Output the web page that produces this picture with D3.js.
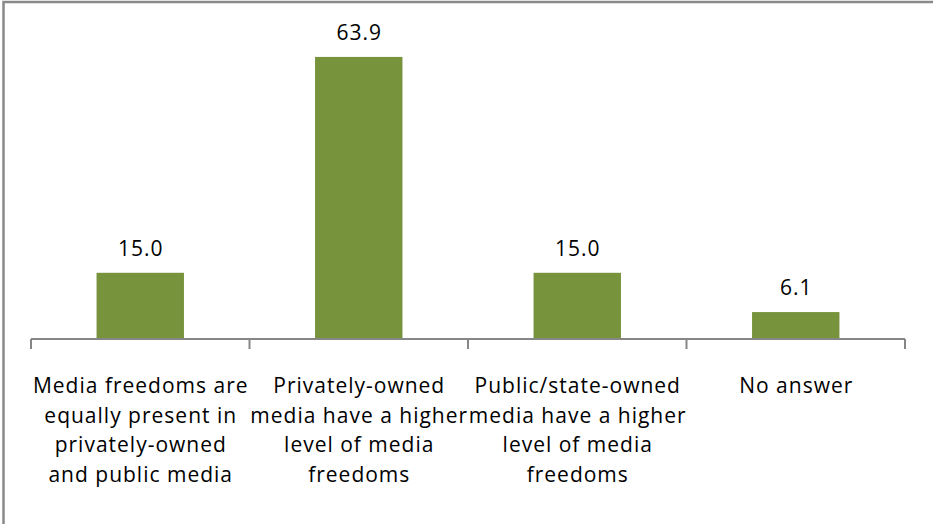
<!DOCTYPE html>
<html>
<head>
<meta charset="utf-8">
<script src="https://cdn.jsdelivr.net/npm/d3@7"></script>
<style>
  html, body { margin: 0; padding: 0; background: #fff; overflow: hidden; }
  svg { display: block; }
  text { font-family: "Open Sans", Lato, sans-serif; fill: #000; letter-spacing: 1px; }
</style>
</head>
<body>
<svg id="chart" width="933" height="524"></svg>
<script>
// Survey answers: where media freedoms are higher (percent)
const categories = [
  "equal",
  "private",
  "public",
  "none"
];
const tickLabels = [
  ["Media freedoms are", "equally present in", "privately-owned", "and public media"],
  ["Privately-owned", "media have a higher", "level of media", "freedoms"],
  ["Public/state-owned", "media have a higher", "level of media", "freedoms"],
  ["No answer"]
];
const values = [15.0, 63.9, 15.0, 6.1];

const W = 933, H = 524;
const margin = { left: 31, right: 28, top: 30, bottom: 185 };
const svg = d3.select("#chart");

// chart frame (extends past the visible area on right/bottom)
svg.append("rect")
  .attr("x", 3.5).attr("y", 2)
  .attr("width", W + 20).attr("height", H + 20)
  .attr("fill", "none")
  .attr("stroke", "#8a8a8a")
  .attr("stroke-width", 2.5);

const x = d3.scaleBand()
  .domain(categories)
  .range([margin.left, W - margin.right])
  .paddingInner(0.6)
  .paddingOuter(0.3);

const baseY = H - margin.bottom;
const y = d3.scaleLinear()
  .domain([0, 70])
  .range([baseY, margin.top]);

// bars
svg.append("g").selectAll("rect")
  .data(values)
  .join("rect")
  .attr("x", (d, i) => x(categories[i]))
  .attr("y", d => y(d))
  .attr("width", x.bandwidth())
  .attr("height", d => y(0) - y(d))
  .attr("fill", "#77933c");

// value labels
svg.append("g").selectAll("text")
  .data(values)
  .join("text")
  .attr("x", (d, i) => x(categories[i]) + x.bandwidth() / 2 + 0.5)
  .attr("y", d => y(d) - 17)
  .attr("text-anchor", "middle")
  .attr("font-size", 21)
  .text(d => d.toFixed(1));

// category axis with ticks at band boundaries
const bounds = d3.range(categories.length + 1).map(i => margin.left + i * (W - margin.left - margin.right) / categories.length);
const axisG = svg.append("g");
axisG.append("line")
  .attr("x1", bounds[0]).attr("x2", bounds[bounds.length - 1])
  .attr("y1", baseY).attr("y2", baseY)
  .attr("stroke", "#868686").attr("stroke-width", 2);
axisG.selectAll("line.tick")
  .data(bounds)
  .join("line")
  .attr("class", "tick")
  .attr("x1", d => d).attr("x2", d => d)
  .attr("y1", baseY).attr("y2", baseY + 10)
  .attr("stroke", "#868686").attr("stroke-width", 2);

// multi-line category labels
const lab = svg.append("g").selectAll("text")
  .data(tickLabels)
  .join("text")
  .attr("x", (d, i) => x(categories[i]) + x.bandwidth() / 2 + 0.5)
  .attr("y", baseY + 54)
  .attr("text-anchor", "middle")
  .attr("font-size", 21);
lab.selectAll("tspan")
  .data(d => d)
  .join("tspan")
  .attr("x", function () { return d3.select(this.parentNode).attr("x"); })
  .attr("dy", (d, i) => i === 0 ? 0 : 29.5)
  .text(d => d);
</script>
</body>
</html>
